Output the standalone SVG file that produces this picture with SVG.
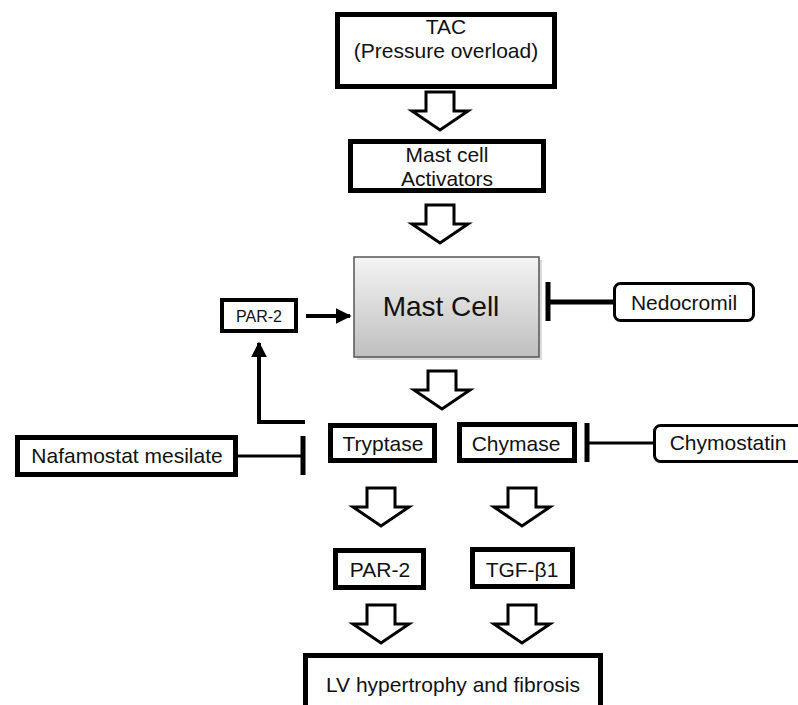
<svg xmlns="http://www.w3.org/2000/svg" width="798" height="705" viewBox="0 0 798 705">
<style>
  .box{fill:#fff;stroke:#000;stroke-width:5}
  .rbox{fill:#fff;stroke:#000;stroke-width:3}
  .t{font-family:"Liberation Sans",Arial,sans-serif;font-size:21px;fill:#111;text-anchor:middle}
  .line{stroke:#000;fill:none}
  .barr{fill:#fff;stroke:#000;stroke-width:3;stroke-linejoin:miter}
</style>
<defs>
  <linearGradient id="mg" x1="0" y1="0" x2="0" y2="1">
    <stop offset="0" stop-color="#f4f4f4"/>
    <stop offset="1" stop-color="#bfbfbf"/>
  </linearGradient>
  <marker id="ah" viewBox="0 0 10 10" refX="9" refY="5" markerWidth="4" markerHeight="4" orient="auto" markerUnits="strokeWidth">
    <path d="M0,0 L10,5 L0,10 z" fill="#000"/>
  </marker>
  <polygon id="blk" points="-14,0 14,0 14,19 28,19 0,38 -28,19 -14,19"/>
</defs>

<g id="tac">
  <rect class="box" x="337.5" y="14.5" width="217" height="72"/>
  <text class="t" x="446" y="34">TAC</text>
  <text class="t" x="446" y="58">(Pressure overload)</text>
</g>
<g id="activators">
  <rect class="box" x="350.5" y="141.5" width="193" height="49"/>
  <text class="t" x="447" y="162">Mast cell</text>
  <text class="t" x="447" y="186">Activators</text>
</g>
<g id="mastcell">
  <rect x="357" y="260" width="185" height="100" fill="#999" opacity="0.35"/>
  <rect x="354" y="257" width="185" height="100" fill="url(#mg)" stroke="#555" stroke-width="1.5"/>
  <text class="t" x="441" y="316" style="font-size:28px">Mast Cell</text>
</g>
<g id="par2-top">
  <rect x="222" y="300" width="74" height="31" fill="#fff" stroke="#000" stroke-width="4"/>
  <text class="t" x="259" y="322" style="font-size:16px">PAR-2</text>
</g>
<g id="nedocromil">
  <rect class="rbox" x="614.5" y="283.5" width="139" height="37" rx="6"/>
  <text class="t" x="684" y="310">Nedocromil</text>
</g>
<g id="nafamostat">
  <rect class="box" x="17.5" y="437.5" width="218" height="37"/>
  <text class="t" x="127" y="463">Nafamostat mesilate</text>
</g>
<g id="tryptase">
  <rect class="box" x="330.5" y="425.5" width="104" height="35"/>
  <text class="t" x="383" y="451">Tryptase</text>
</g>
<g id="chymase">
  <rect class="box" x="459.5" y="424.5" width="115" height="36"/>
  <text class="t" x="516" y="451">Chymase</text>
</g>
<g id="chymostatin">
  <rect class="rbox" x="654.5" y="425.5" width="152" height="36" rx="6"/>
  <text class="t" x="728" y="450">Chymostatin</text>
</g>
<g id="par2-bottom">
  <rect class="box" x="335.5" y="550.5" width="88" height="37"/>
  <text class="t" x="380" y="577">PAR-2</text>
</g>
<g id="tgf">
  <rect class="box" x="472.5" y="549.5" width="100" height="37"/>
  <text class="t" x="522" y="577">TGF-β1</text>
</g>
<g id="lv">
  <rect class="box" x="305.5" y="655.5" width="295" height="60"/>
  <text class="t" x="453" y="692">LV hypertrophy and fibrosis</text>
</g>

<g id="connectors">
  <use href="#blk" class="barr" transform="translate(440,92)"/>
  <use href="#blk" class="barr" transform="translate(440,205)"/>
  <use href="#blk" class="barr" transform="translate(442,371)"/>
  <use href="#blk" class="barr" transform="translate(381,488)"/>
  <use href="#blk" class="barr" transform="translate(522,488)"/>
  <use href="#blk" class="barr" transform="translate(381,605)"/>
  <use href="#blk" class="barr" transform="translate(522,605)"/>

  <line class="line" x1="306" y1="316" x2="350" y2="316" stroke-width="4" marker-end="url(#ah)"/>
  <polyline class="line" points="305,422 259,422 259,343" stroke-width="4" marker-end="url(#ah)"/>

  <line class="line" x1="548" y1="302" x2="613" y2="302" stroke-width="5"/>
  <line class="line" x1="548" y1="282" x2="548" y2="321" stroke-width="5"/>

  <line class="line" x1="238" y1="456" x2="303" y2="456" stroke-width="3"/>
  <line class="line" x1="303" y1="436" x2="303" y2="475" stroke-width="5"/>

  <line class="line" x1="587" y1="443" x2="653" y2="443" stroke-width="3"/>
  <line class="line" x1="587" y1="423" x2="587" y2="462" stroke-width="5"/>
</g>
</svg>
